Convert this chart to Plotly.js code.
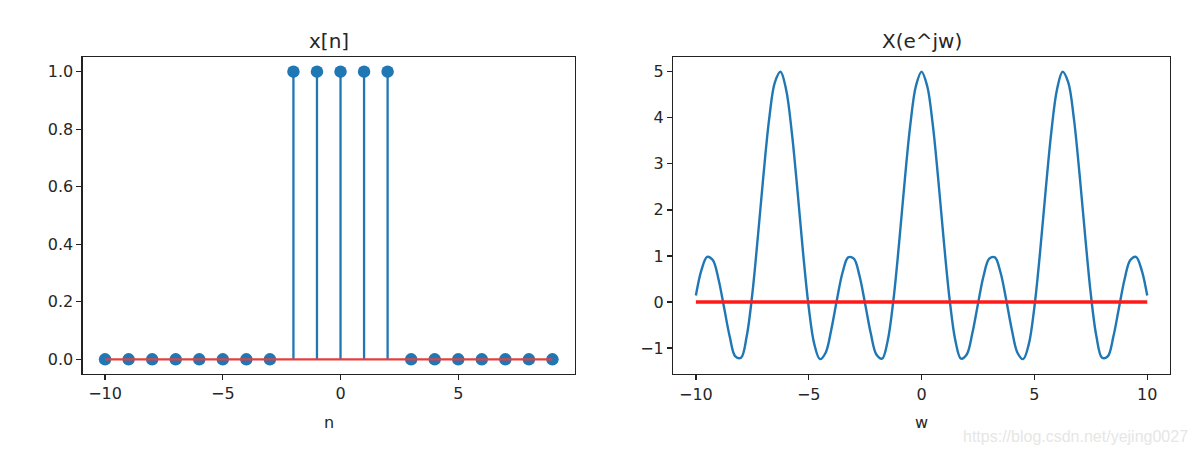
<!DOCTYPE html>
<html>
<head>
<meta charset="utf-8">
<script src="https://cdn.plot.ly/plotly-3.0.1.min.js"></script>
<style>html,body{margin:0;padding:0;background:#fff;}#chart{width:1200px;height:453px;}</style>
</head>
<body>
<div id="chart"></div>
<script>
// ---- data: left panel (stem plot of x[n]) ----
var nValues = [-10,-9,-8,-7,-6,-5,-4,-3,-2,-1,0,1,2,3,4,5,6,7,8,9];
var xnValues = [0,0,0,0,0,0,0,0,1,1,1,1,1,0,0,0,0,0,0,0];

// ---- data: right panel X(e^jw) ----
var wValues = [
 -10,-9.75,-9.5,-9.25,-9,-8.75,-8.5,-8.25,-8,-7.75,-7.5,-7.25,-7,-6.75,-6.5,-6.25,-6,-5.75,-5.5,-5.25,
 -5,-4.75,-4.5,-4.25,-4,-3.75,-3.5,-3.25,-3,-2.75,-2.5,-2.25,-2,-1.75,-1.5,-1.25,-1,-0.75,-0.5,-0.25,
 0,
 0.25,0.5,0.75,1,1.25,1.5,1.75,2,2.25,2.5,2.75,3,3.25,3.5,3.75,4,4.25,4.5,4.75,5,
 5.25,5.5,5.75,6,6.25,6.5,6.75,7,7.25,7.5,7.75,8,8.25,8.5,8.75,9,9.25,9.5,9.75,10
];
var XwValues = [
 0.14,0.70,0.98,0.91,0.50,-0.12,-0.75,-1.18,-1.21,-0.75,0.17,1.43,2.78,3.98,4.77,5.00,4.61,3.69,2.43,1.07,
 -0.11,-0.92,-1.24,-1.10,-0.60,0.05,0.64,0.97,0.94,0.57,-0.04,-0.68,-1.14,-1.23,-0.84,0.03,1.25,2.61,3.84,4.69,
 5.00,
 4.69,3.84,2.61,1.25,0.03,-0.84,-1.23,-1.14,-0.68,-0.04,0.57,0.94,0.97,0.64,0.05,-0.60,-1.10,-1.24,-0.92,-0.11,
 1.07,2.43,3.69,4.61,5.00,4.77,3.98,2.78,1.43,0.17,-0.75,-1.21,-1.18,-0.75,-0.12,0.50,0.91,0.98,0.70,0.14
];

// ---- labels ----
var leftTitle = 'x[n]';
var rightTitle = 'X(e^jw)';
var leftXLabel = 'n';
var rightXLabel = 'w';
var watermark = 'https://blog.csdn.net/yejing0027';

var blue = '#1f77b4';
var FONT = 'DejaVu Sans, sans-serif';

// stems built from the data arrays
var stemX = [], stemY = [];
for (var i = 0; i < nValues.length; i++) {
  if (xnValues[i] !== 0) {
    stemX.push(nValues[i], nValues[i], null);
    stemY.push(0, xnValues[i], null);
  }
}

var nMin = Math.min.apply(null, nValues), nMax = Math.max.apply(null, nValues);
var wMin = Math.min.apply(null, wValues), wMax = Math.max.apply(null, wValues);

var traces = [
  {x: stemX, y: stemY, mode: 'lines', line: {color: blue, width: 2.3}, xaxis: 'x', yaxis: 'y', hoverinfo: 'skip'},
  {x: nValues, y: xnValues, mode: 'markers', marker: {color: blue, size: 12.5}, xaxis: 'x', yaxis: 'y'},
  {x: [nMin, nMax], y: [0, 0], mode: 'lines', line: {color: '#e0413f', width: 2.3}, xaxis: 'x', yaxis: 'y'},
  {x: wValues, y: XwValues, mode: 'lines', line: {color: blue, width: 2.4, shape: 'spline', smoothing: 1}, xaxis: 'x2', yaxis: 'y2'},
  {x: [wMin, wMax], y: [0, 0], mode: 'lines', line: {color: '#ff1a1a', width: 3.3}, xaxis: 'x2', yaxis: 'y2'}
];

var axisCommon = {
  showgrid: false, zeroline: false, showline: true, mirror: true,
  linecolor: '#222', linewidth: 1.3, ticks: 'outside', ticklen: 5, tickwidth: 1.3, tickcolor: '#222',
  tickfont: {family: FONT, size: 16, color: '#262626'}, fixedrange: true
};
function ax(extra) { var o = {}; for (var k in axisCommon) o[k] = axisCommon[k]; for (var k2 in extra) o[k2] = extra[k2]; return o; }

var W = 1200, H = 453;
var layout = {
  width: W, height: H, showlegend: false,
  margin: {l: 0, r: 0, t: 0, b: 0},
  paper_bgcolor: '#fff', plot_bgcolor: '#fff',
  xaxis: ax({domain: [82.7 / W, 574.8 / W], range: [-10.95, 9.95], tickvals: [-10, -5, 0, 5], ticktext: ['\u221210', '\u22125', '0', '5'], anchor: 'y'}),
  yaxis: ax({domain: [1 - 373.7 / H, 1 - 57.3 / H], range: [-0.05, 1.05], tickvals: [0, 0.2, 0.4, 0.6, 0.8, 1.0], ticktext: ['0.0', '0.2', '0.4', '0.6', '0.8', '1.0'], anchor: 'x'}),
  xaxis2: ax({domain: [673.3 / W, 1169.8 / W], range: [-11, 11], tickvals: [-10, -5, 0, 5, 10], ticktext: ['\u221210', '\u22125', '0', '5', '10'], anchor: 'y2'}),
  yaxis2: ax({domain: [1 - 374 / H, 1 - 57.3 / H], range: [-1.5625, 5.3125], tickvals: [-1, 0, 1, 2, 3, 4, 5], ticktext: ['\u22121', '0', '1', '2', '3', '4', '5'], anchor: 'x2'}),
  annotations: [
    {text: leftTitle, xref: 'paper', yref: 'paper', x: 328.7 / W, y: 1 - 41 / H, xanchor: 'center', yanchor: 'middle', showarrow: false, font: {family: FONT, size: 20, color: '#262626'}},
    {text: rightTitle, xref: 'paper', yref: 'paper', x: 921.5 / W, y: 1 - 41 / H, xanchor: 'center', yanchor: 'middle', showarrow: false, font: {family: FONT, size: 20, color: '#262626'}},
    {text: leftXLabel, xref: 'paper', yref: 'paper', x: 328.7 / W, y: 1 - 422 / H, xanchor: 'center', yanchor: 'middle', showarrow: false, font: {family: FONT, size: 16, color: '#262626'}},
    {text: rightXLabel, xref: 'paper', yref: 'paper', x: 921.5 / W, y: 1 - 422 / H, xanchor: 'center', yanchor: 'middle', showarrow: false, font: {family: FONT, size: 16, color: '#262626'}},
    {text: watermark, xref: 'paper', yref: 'paper', x: 1190 / W, y: 1 - 436 / H, xanchor: 'right', yanchor: 'middle', showarrow: false, font: {family: 'Liberation Sans, Arial, sans-serif', size: 16, color: '#e6e6e6'}}
  ]
};

Plotly.newPlot('chart', traces, layout, {staticPlot: true, displayModeBar: false});
</script>
</body>
</html>
